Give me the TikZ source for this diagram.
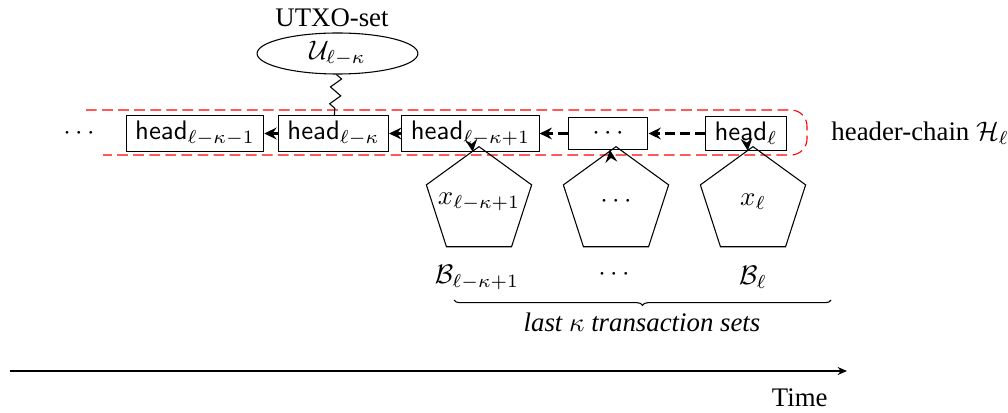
\documentclass[tikz,border=0pt]{standalone}
\usepackage[no-math]{fontspec}
\newfontfamily\lblfont{Liberation Serif}
\usetikzlibrary{arrows.meta,shapes.geometric,decorations.pathmorphing,decorations.pathreplacing}
\begin{document}
\begin{tikzpicture}[x=0.3731pt,y=-0.3731pt,
  hbox/.style={draw,font=\sffamily,inner ysep=2pt,minimum width=29.8pt,minimum height=11.9pt},
  blk/.style={draw,regular polygon,regular polygon sides=5,minimum size=41.3pt,inner sep=0pt},
  tip/.style={-{Stealth[length=4.6pt,width=4.4pt,inset=1.6pt]}},
  chain/.style={tip,line width=0.75pt,dash pattern=on 3.7pt off 1.9pt},
  lbl/.style={font=\lblfont},
  zz/.style={decorate,decoration={zigzag,segment length=6.3pt,amplitude=2pt}},
  hull/.style={red,dash pattern=on 4pt off 2pt,rounded corners=6pt}
]
\useasboundingbox (0,0) rectangle (1008,413);

% header chain
\node (dots0) at (79,133.5) {$\cdots$};
\node[hbox] (b1) at (195,133.5) {head$_{\ell-\kappa-1}$};
\node[hbox] (b2) at (333.5,133.5) {head$_{\ell-\kappa}$};
\node[hbox] (b3) at (470.5,133.5) {head$_{\ell-\kappa+1}$};
\node[hbox] (b4) at (608,133.5) {$\cdots$};
\node[hbox] (b5) at (746,133.5) {head$_{\ell}$};

\draw[chain] (b2) -- (b1);
\draw[chain] (b3) -- (b2);
\draw[chain] (b4) -- (b3);
\draw[chain] (b5) -- (b4);

% red header-chain outline
\draw[hull] (86,110) -- (807,110) -- (807,155) -- (103,155);
\node[lbl,anchor=west] (hc) at (822,133.5) {header-chain $\mathcal{H}_\ell$};

% UTXO set
\node[draw,ellipse,minimum width=60pt,minimum height=15.3pt,inner sep=0pt] (u) at (337.5,53.5) {$\mathcal{U}_{\ell-\kappa}$};
\node[lbl] (ul) at (332,18) {UTXO-set};
\draw[zz] (u) -- (b2);

% transaction sets
\node[blk] (p1) at (479,202) {\makebox[0pt]{$x_{\ell-\kappa+1}$}};
\node[blk] (p2) at (616,202) {\makebox[0pt]{$\cdots$}};
\node[blk] (p3) at (753,202) {\makebox[0pt]{$x_{\ell}$}};
\draw[tip] (p1) -- (b3);
\draw[tip] (p2) -- (b4);
\draw[tip] (p3) -- (b5);

\node (l1) at (477,277) {$\mathcal{B}_{\ell-\kappa+1}$};
\node (l2) at (614,275) {$\cdots$};
\node (l3) at (753,277) {$\mathcal{B}_{\ell}$};

% brace
\coordinate (br0) at (454,300);
\coordinate (br1) at (831,300);
\draw[decorate,decoration={brace,mirror,amplitude=2pt}] (br0) -- (br1);
\node[lbl,font=\lblfont\itshape] (bl) at (642,322) {last $\kappa$ transaction sets};

% time axis
\coordinate (t0) at (10,371);
\coordinate (t1) at (847,371);
\draw[-{Stealth[length=3.5pt,width=3pt]},line width=0.5pt] (t0) -- (t1);
\node[lbl,anchor=east] (tm) at (837,398) {Time};
\end{tikzpicture}
\end{document}
